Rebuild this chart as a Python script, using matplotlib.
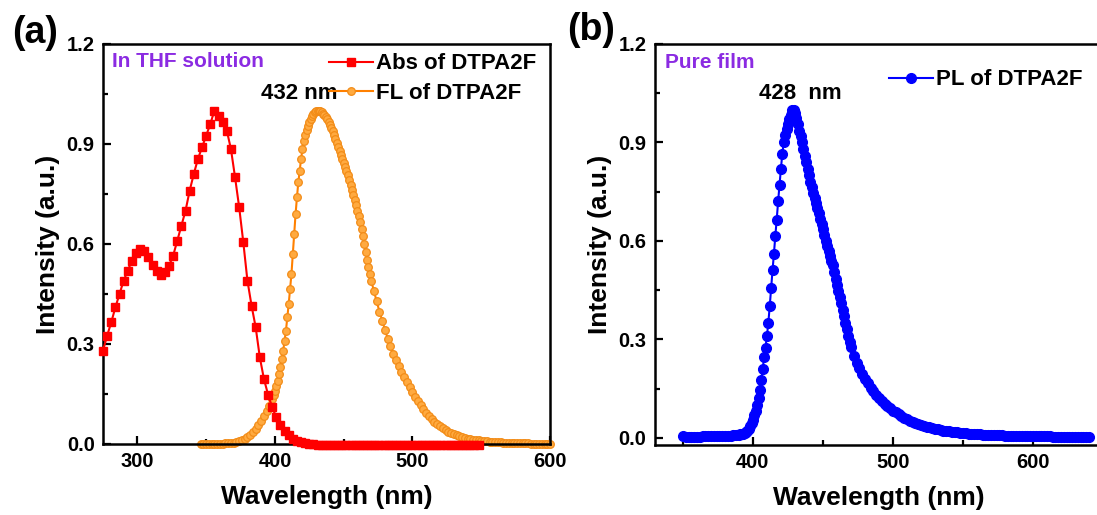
import numpy as np
import matplotlib
matplotlib.use('Agg')
import matplotlib.pyplot as plt
from matplotlib.ticker import MultipleLocator, FormatStrFormatter

plt.rcParams['font.family'] = ['Liberation Sans', 'DejaVu Sans']

# absorption of DTPA2F in THF, 3 nm steps
abs_wl = np.arange(275, 549, 3)
abs_int = [0.28, 0.325, 0.365, 0.41, 0.45, 0.49, 0.52, 0.55, 0.572, 0.585,
           0.578, 0.56, 0.538, 0.518, 0.508, 0.515, 0.535, 0.565, 0.61, 0.655,
           0.70, 0.76, 0.81, 0.855, 0.89, 0.925, 0.96, 1.0, 0.985, 0.965,
           0.94, 0.885, 0.80, 0.71, 0.605, 0.49, 0.415, 0.35, 0.26, 0.195,
           0.148, 0.11, 0.08, 0.057, 0.04, 0.026, 0.016, 0.009, 0.005, 0.002,
           0.0, -0.001, -0.002, -0.002, -0.002, -0.003, -0.002, -0.002, -0.003, -0.002,
           -0.002, -0.002, -0.003, -0.002, -0.002, -0.002, -0.003, -0.002, -0.002, -0.002,
           -0.003, -0.002, -0.002, -0.002, -0.003, -0.002, -0.002, -0.002, -0.002, -0.002,
           -0.003, -0.002, -0.002, -0.002, -0.002, -0.003, -0.002, -0.002, -0.002, -0.002,
           -0.002, -0.002]

# fluorescence of DTPA2F in THF
fl_wl = np.concatenate([np.arange(346, 399, 2), np.arange(399, 471, 1), np.arange(472, 601, 2)])
fl_int = [0.0, 0.0, 0.0, 0.0, 0.0, 0.0, 0.0, 0.001, 0.001, 0.002,
          0.002, 0.003, 0.004, 0.006, 0.008, 0.011, 0.015, 0.02, 0.027, 0.036,
          0.046, 0.058, 0.07, 0.084, 0.1, 0.115, 0.135,
          # 399-470, 1 nm
          0.147, 0.16, 0.175, 0.19, 0.21, 0.23, 0.255, 0.28, 0.31, 0.34,
          0.38, 0.42, 0.465, 0.51, 0.57, 0.63, 0.69, 0.74, 0.785, 0.82,
          0.855, 0.885, 0.908, 0.926, 0.942, 0.955, 0.966, 0.976, 0.984, 0.99,
          0.995, 0.998, 1.0, 1.0, 0.998, 0.995, 0.991, 0.986, 0.98, 0.974,
          0.966, 0.958, 0.949, 0.939, 0.927, 0.915, 0.903, 0.89, 0.879, 0.867,
          0.855, 0.843, 0.831, 0.818, 0.806, 0.793, 0.778, 0.763, 0.748, 0.733,
          0.717, 0.70, 0.683, 0.665, 0.645, 0.625, 0.60, 0.575, 0.552, 0.53,
          0.51, 0.49,
          # 472-600, 2 nm
          0.458, 0.428, 0.397, 0.37, 0.342, 0.316, 0.293, 0.271, 0.252, 0.234,
          0.217, 0.201, 0.186, 0.171, 0.155, 0.141, 0.128, 0.116, 0.105, 0.094,
          0.084, 0.075, 0.067, 0.06, 0.053, 0.047, 0.042, 0.037, 0.033, 0.029,
          0.026, 0.023, 0.02, 0.018, 0.016, 0.014, 0.013, 0.012, 0.011, 0.01,
          0.009, 0.008, 0.007, 0.006, 0.006, 0.005, 0.005, 0.004, 0.004, 0.003,
          0.003, 0.003, 0.002, 0.002, 0.002, 0.002, 0.002, 0.001, 0.001, 0.001,
          0.001, 0.001, 0.001, 0.0, 0.0]

# photoluminescence of the neat film
pl_wl = np.concatenate([np.arange(350, 391, 2), np.arange(391, 471, 1), np.arange(472, 641, 2)])
pl_int = [0.004, 0.003, 0.003, 0.003, 0.003, 0.003, 0.003, 0.004, 0.004, 0.004,
          0.004, 0.004, 0.005, 0.005, 0.005, 0.006, 0.006, 0.006, 0.007, 0.008,
          0.009,
          # 391-470, 1 nm
          0.010, 0.011, 0.012, 0.014, 0.017, 0.022, 0.028, 0.036, 0.045, 0.055,
          0.068, 0.083, 0.10, 0.12, 0.145, 0.175, 0.21, 0.245, 0.275, 0.31,
          0.35, 0.40, 0.455, 0.51, 0.56, 0.615, 0.665, 0.72, 0.77, 0.82,
          0.865, 0.90, 0.922, 0.94, 0.955, 0.97, 0.985, 1.0, 0.998, 0.99,
          0.975, 0.955, 0.935, 0.92, 0.90, 0.88, 0.86, 0.84, 0.82, 0.80,
          0.78, 0.765, 0.745, 0.73, 0.715, 0.70, 0.685, 0.668, 0.652, 0.635,
          0.618, 0.60, 0.585, 0.57, 0.555, 0.54, 0.525, 0.505, 0.485, 0.465,
          0.447, 0.428, 0.41, 0.39, 0.37, 0.35, 0.33, 0.31, 0.293, 0.277,
          # 472-640, 2 nm
          0.25, 0.228, 0.212, 0.195, 0.18, 0.166, 0.153, 0.141, 0.13, 0.12,
          0.111, 0.103, 0.097, 0.09, 0.083, 0.077, 0.071, 0.066, 0.061, 0.057,
          0.052, 0.048, 0.044, 0.041, 0.038, 0.036, 0.034, 0.032, 0.03, 0.028,
          0.026, 0.024, 0.022, 0.021, 0.02, 0.018, 0.017, 0.016, 0.015, 0.014,
          0.013, 0.012, 0.012, 0.011, 0.01, 0.01, 0.009, 0.009, 0.008, 0.008,
          0.008, 0.007, 0.007, 0.007, 0.006, 0.006, 0.006, 0.006, 0.005, 0.005,
          0.005, 0.005, 0.005, 0.004, 0.004, 0.004, 0.004, 0.004, 0.004, 0.004,
          0.004, 0.003, 0.003, 0.003, 0.003, 0.003, 0.003, 0.003, 0.003, 0.003,
          0.003, 0.003, 0.003, 0.003, 0.003]

fl_peak = 432
pl_peak = 428


def style_axes(ax):
    for s in ax.spines.values():
        s.set_linewidth(1.8)
    ax.tick_params(which='both', direction='in', top=False, right=False, width=1.6, pad=6)
    ax.tick_params(which='major', length=6)
    ax.tick_params(which='minor', length=3.5)
    for lab in ax.get_xticklabels() + ax.get_yticklabels():
        lab.set_fontsize(14.5)
        lab.set_fontweight('bold')
    ax.xaxis.set_major_locator(MultipleLocator(100))
    ax.xaxis.set_minor_locator(MultipleLocator(50))
    ax.yaxis.set_major_locator(MultipleLocator(0.3))
    ax.yaxis.set_minor_locator(MultipleLocator(0.15))
    ax.yaxis.set_major_formatter(FormatStrFormatter('%.1f'))
    ax.set_xlabel('Wavelength (nm)', fontsize=19, fontweight='bold', labelpad=10)
    ax.set_ylabel('Intensity (a.u.)', fontsize=19, fontweight='bold', labelpad=5)


plt.rcParams['font.weight'] = 'bold'
fig = plt.figure(figsize=(10.97, 5.15), dpi=100)

# (a) solution spectra
ax1 = fig.add_axes([0.0939, 0.1379, 0.4075, 0.7767])
ax1.plot(abs_wl, abs_int, '-s', color='#FF0000', lw=1.5, ms=6, clip_on=False,
         label='Abs of DTPA2F', zorder=3)
ax1.plot(fl_wl, fl_int, '-o', color='#FF8000', mfc='#FFAA40', mec='#F28C18', mew=0.9,
         lw=1.5, ms=5.5, clip_on=False, label='FL of DTPA2F', zorder=2)
ax1.set_xlim(275, 600)
ax1.set_ylim(0, 1.2)
style_axes(ax1)
ax1.text(0.021, 0.955, 'In THF solution', transform=ax1.transAxes, color='#8B2BE2',
         fontsize=15, fontweight='bold', va='center', ha='left')
ax1.text(417.5, 1.05, f'{fl_peak} nm', fontsize=16, fontweight='bold', ha='center', va='center')
ax1.legend(loc='upper right', bbox_to_anchor=(1.0, 1.01), frameon=False,
           prop={'weight': 'bold', 'size': 16}, handlelength=2.0,
           handletextpad=0.15, labelspacing=0.4, borderaxespad=0.2)

# (b) film spectrum
ax2 = fig.add_axes([0.597, 0.136, 0.4084, 0.7786])
ax2.plot(pl_wl, pl_int, '-o', color='#0000FF', lw=1.5, ms=7, clip_on=False,
         label='PL of DTPA2F')
ax2.set_xlim(330, 650)
ax2.set_ylim(-0.022, 1.2)
style_axes(ax2)
ax2.text(0.022, 0.953, 'Pure film', transform=ax2.transAxes, color='#8B2BE2',
         fontsize=15, fontweight='bold', va='center', ha='left')
ax2.text(433.6, 1.05, f'{pl_peak}  nm', fontsize=16, fontweight='bold', ha='center', va='center')
ax2.legend(loc='upper right', bbox_to_anchor=(0.985, 0.97), frameon=False,
           prop={'weight': 'bold', 'size': 16}, handlelength=2.0, handletextpad=0.15,
           borderaxespad=0.2)

fig.text(0.032, 0.935, '(a)', fontsize=27, fontweight='bold', ha='center', va='center')
fig.text(0.539, 0.942, '(b)', fontsize=27, fontweight='bold', ha='center', va='center')

fig.savefig('out.png', dpi=100)
